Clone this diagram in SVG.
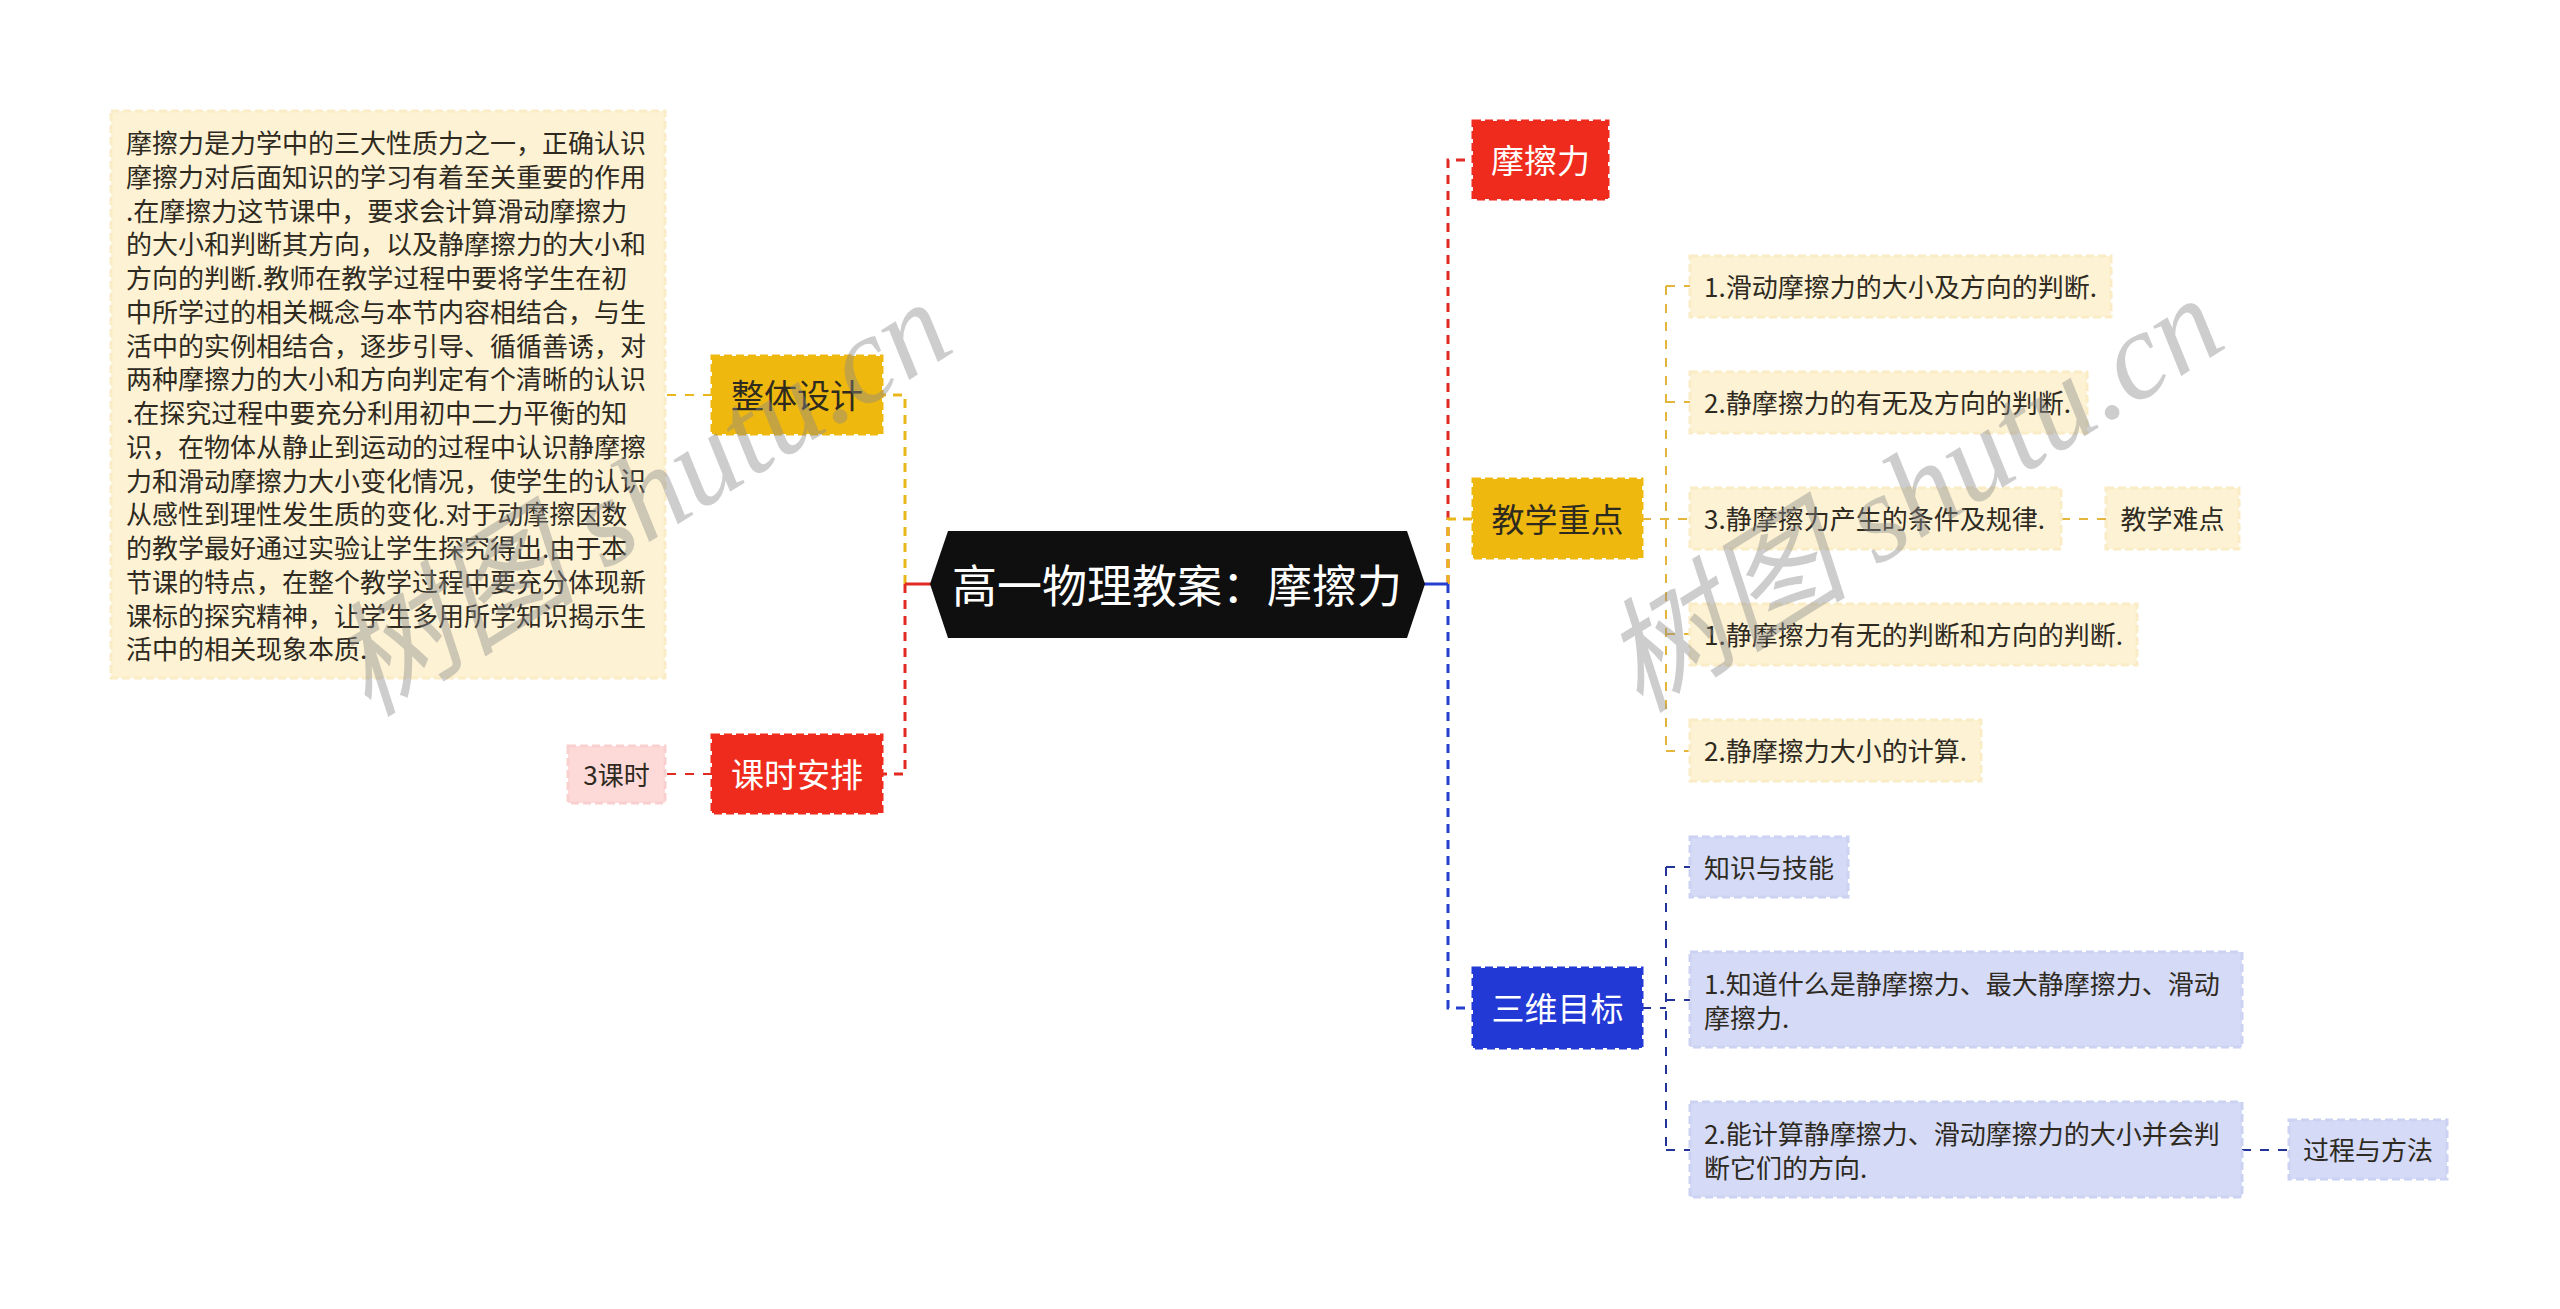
<svg xmlns="http://www.w3.org/2000/svg" width="2560" height="1309" viewBox="0 0 2560 1309">
<style>
text{font-family:"Noto Sans CJK SC","Noto Sans",sans-serif;}
.t26{font-size:26px;fill:#2e2a1f;}
.t33{font-size:33px;}
.cream{fill:#fdf2d3;stroke:#faecc6;stroke-width:3;stroke-dasharray:8 4;}
.lav{fill:#d5daf6;stroke:#ccd2f2;stroke-width:3;stroke-dasharray:8 4;}
.pink{fill:#fdd9d8;stroke:#f9d0cf;stroke-width:3;stroke-dasharray:8 4;}
.red{fill:#ee2b1c;stroke:#ee2b1c;stroke-width:3;stroke-dasharray:8 4;}
.yel{fill:#efb80f;stroke:#efb80f;stroke-width:3;stroke-dasharray:8 4;}
.blu{fill:#2239d5;stroke:#2239d5;stroke-width:3;stroke-dasharray:8 4;}
.c{fill:none;stroke-width:3;stroke-dasharray:9 7;}
.c2{fill:none;stroke-width:2;stroke-dasharray:9 9;}
.wm{font-family:"Liberation Serif","Noto Sans CJK SC",serif;font-style:italic;font-size:124px;fill:#8a8a8a;opacity:0.42;}
</style>
<rect width="2560" height="1309" fill="#ffffff"/>

<g id="connectors">
  <path class="c" stroke="#e9b71c" d="M905,584 V395 H882"/>
  <path class="c" stroke="#e02a22" d="M905,584 V774 H882"/>
  <line x1="905" y1="584" x2="931" y2="584" stroke="#e02a22" stroke-width="3"/>
  <path class="c2" stroke="#e9b71c" d="M712,395 H665"/>
  <path class="c2" stroke="#e02a22" d="M712,774 H665"/>
  <path class="c" stroke="#e02a22" d="M1448,584 V160 H1473"/>
  <path class="c" stroke="#2540d0" d="M1448,584 V1008 H1473"/>
  <path class="c" stroke="#e9b71c" d="M1448,584 V519 H1473"/>
  <line x1="1424" y1="584" x2="1448" y2="584" stroke="#2540d0" stroke-width="3"/>
  <path class="c2" stroke="#e3b53a" d="M1642,519 H1690 M1666,286 V751 M1666,286 H1690 M1666,402 H1690 M1666,634 H1690 M1666,751 H1690"/>
  <path class="c2" stroke="#e3b53a" d="M2061,519 H2106"/>
  <path class="c2" stroke="#223399" d="M1642,1008 H1666 M1666,867 V1150 M1666,867 H1690 M1666,1000 H1690 M1666,1150 H1690"/>
  <path class="c2" stroke="#223399" d="M2242,1150 H2289"/>
</g>

<g id="root">
  <polygon points="930,584 948,531 1407,531 1425,584 1407,638 948,638" fill="#0f0f0f"/>
  <text x="1177" y="583" text-anchor="middle" dominant-baseline="central" font-size="45" fill="#ffffff">高一物理教案：摩擦力</text>
</g>

<g id="node-zhengti">
  <rect class="yel" x="712" y="356" width="170" height="78"/>
  <text class="t33" x="797" y="394" text-anchor="middle" dominant-baseline="central" fill="#2e2a1f">整体设计</text>
</g>
<g id="node-zhengti-text">
  <rect class="cream" x="111" y="111" width="554" height="567"/>
  <text class="t26" dominant-baseline="central">
    <tspan x="126" y="141">摩擦力是力学中的三大性质力之一，正确认识</tspan>
    <tspan x="126" y="174.75">摩擦力对后面知识的学习有着至关重要的作用</tspan>
    <tspan x="126" y="208.5">.在摩擦力这节课中，要求会计算滑动摩擦力</tspan>
    <tspan x="126" y="242.25">的大小和判断其方向，以及静摩擦力的大小和</tspan>
    <tspan x="126" y="276">方向的判断.教师在教学过程中要将学生在初</tspan>
    <tspan x="126" y="309.75">中所学过的相关概念与本节内容相结合，与生</tspan>
    <tspan x="126" y="343.5">活中的实例相结合，逐步引导、循循善诱，对</tspan>
    <tspan x="126" y="377.25">两种摩擦力的大小和方向判定有个清晰的认识</tspan>
    <tspan x="126" y="411">.在探究过程中要充分利用初中二力平衡的知</tspan>
    <tspan x="126" y="444.75">识，在物体从静止到运动的过程中认识静摩擦</tspan>
    <tspan x="126" y="478.5">力和滑动摩擦力大小变化情况，使学生的认识</tspan>
    <tspan x="126" y="512.25">从感性到理性发生质的变化.对于动摩擦因数</tspan>
    <tspan x="126" y="546">的教学最好通过实验让学生探究得出.由于本</tspan>
    <tspan x="126" y="579.75">节课的特点，在整个教学过程中要充分体现新</tspan>
    <tspan x="126" y="613.5">课标的探究精神，让学生多用所学知识揭示生</tspan>
    <tspan x="126" y="647.25">活中的相关现象本质.</tspan>
  </text>
</g>

<g id="node-keshi">
  <rect class="red" x="712" y="735" width="170" height="78"/>
  <text class="t33" x="797" y="773" text-anchor="middle" dominant-baseline="central" fill="#ffffff">课时安排</text>
</g>
<g id="node-3keshi">
  <rect class="pink" x="568" y="746" width="97" height="57"/>
  <text class="t26" x="616.5" y="773.5" text-anchor="middle" dominant-baseline="central">3课时</text>
</g>

<g id="node-mocali">
  <rect class="red" x="1473" y="121" width="135" height="78"/>
  <text class="t33" x="1540.5" y="159" text-anchor="middle" dominant-baseline="central" fill="#ffffff">摩擦力</text>
</g>

<g id="node-zhongdian">
  <rect class="yel" x="1473" y="479" width="169" height="79"/>
  <text class="t33" x="1557.5" y="518" text-anchor="middle" dominant-baseline="central" fill="#2e2a1f">教学重点</text>
</g>
<g id="node-z1">
  <rect class="cream" x="1690" y="256" width="421" height="61"/>
  <text class="t26" x="1704" y="285.5" dominant-baseline="central">1.滑动摩擦力的大小及方向的判断.</text>
</g>
<g id="node-z2">
  <rect class="cream" x="1690" y="372" width="397" height="61"/>
  <text class="t26" x="1704" y="401.5" dominant-baseline="central">2.静摩擦力的有无及方向的判断.</text>
</g>
<g id="node-z3">
  <rect class="cream" x="1690" y="488" width="371" height="61"/>
  <text class="t26" x="1704" y="517.5" dominant-baseline="central">3.静摩擦力产生的条件及规律.</text>
</g>
<g id="node-nandian">
  <rect class="cream" x="2106" y="488" width="133" height="61"/>
  <text class="t26" x="2172.5" y="517.5" text-anchor="middle" dominant-baseline="central">教学难点</text>
</g>
<g id="node-z4">
  <rect class="cream" x="1690" y="604" width="447" height="61"/>
  <text class="t26" x="1704" y="633.5" dominant-baseline="central">1.静摩擦力有无的判断和方向的判断.</text>
</g>
<g id="node-z5">
  <rect class="cream" x="1690" y="720" width="291" height="61"/>
  <text class="t26" x="1704" y="749.5" dominant-baseline="central">2.静摩擦力大小的计算.</text>
</g>

<g id="node-sanwei">
  <rect class="blu" x="1473" y="968" width="169" height="80"/>
  <text class="t33" x="1557.5" y="1007" text-anchor="middle" dominant-baseline="central" fill="#ffffff">三维目标</text>
</g>
<g id="node-s1">
  <rect class="lav" x="1690" y="837" width="158" height="60"/>
  <text class="t26" x="1769" y="866" text-anchor="middle" dominant-baseline="central">知识与技能</text>
</g>
<g id="node-s2">
  <rect class="lav" x="1690" y="952" width="552" height="95"/>
  <text class="t26" dominant-baseline="central">
    <tspan x="1704" y="982">1.知道什么是静摩擦力、最大静摩擦力、滑动</tspan>
    <tspan x="1704" y="1016">摩擦力.</tspan>
  </text>
</g>
<g id="node-s3">
  <rect class="lav" x="1690" y="1102" width="552" height="95"/>
  <text class="t26" dominant-baseline="central">
    <tspan x="1704" y="1132">2.能计算静摩擦力、滑动摩擦力的大小并会判</tspan>
    <tspan x="1704" y="1166">断它们的方向.</tspan>
  </text>
</g>
<g id="node-guocheng">
  <rect class="lav" x="2289" y="1120" width="158" height="59"/>
  <text class="t26" x="2368" y="1148.5" text-anchor="middle" dominant-baseline="central">过程与方法</text>
</g>

<g id="watermarks">
  <text class="wm" transform="translate(368,718) rotate(-32)">树图 shutu.cn</text>
  <text class="wm" transform="translate(1640,714) rotate(-32)">树图 shutu.cn</text>
</g>
</svg>
